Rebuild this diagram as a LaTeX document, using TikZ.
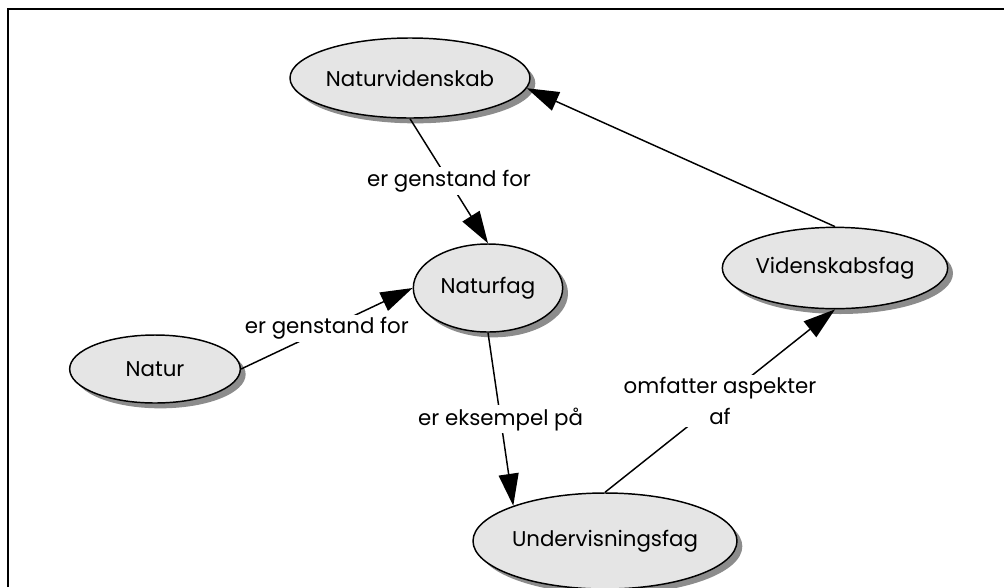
\documentclass[tikz,border=0pt]{standalone}
\usepackage{fontspec}
\setmainfont{Poppins}
\usetikzlibrary{shapes.geometric,shadows,arrows.meta}

\begin{document}
\begin{tikzpicture}[x=0.75pt,y=-0.75pt]
        \useasboundingbox (0,0) rectangle (1004,587);
        \draw[line width=1.3pt] (8,587) -- (8,9) -- (1004,9);
        \begin{scope}[every node/.style={ellipse, draw, line width=1.1pt, fill=black!10, inner sep=0pt,
                        font=\fontsize{16}{20}\selectfont,
                        drop shadow={shadow xshift=4pt, shadow yshift=-4pt, fill=black!45, opacity=1}}]
                \node[minimum width=180pt, minimum height=60pt] (Nvid) at (410,78) {Naturvidenskab};
                \node[minimum width=112pt, minimum height=66pt] (Nfag) at (488,288) {Naturfag};
                \node[minimum width=128pt, minimum height=51pt] (Natur) at (155,369) {Natur};
                \node[minimum width=169pt, minimum height=61pt] (Vfag) at (835,268) {Videnskabsfag};
                \node[minimum width=198pt, minimum height=72pt] (Ufag) at (605,541) {Undervisningsfag};
        \end{scope}
        \begin{scope}[every node/.style={fill=white, inner sep=2pt, align=center, font=\fontsize{16}{23}\selectfont},
                        every path/.style={line width=1.1pt, -{Triangle[length=24pt, width=15pt]}}]
                \path (Nvid.south) edge node {er genstand for} (Nfag.north);
                \path (Natur.east) edge node {er genstand for} (Nfag.west);
                \path (Nfag.south) edge node {er eksempel på} (Ufag.159);
                \path (Ufag.north) edge node {omfatter aspekter\\af} (Vfag.south);
                \path (Vfag.north) edge (Nvid.-5);
        \end{scope}
\end{tikzpicture}
\end{document}
